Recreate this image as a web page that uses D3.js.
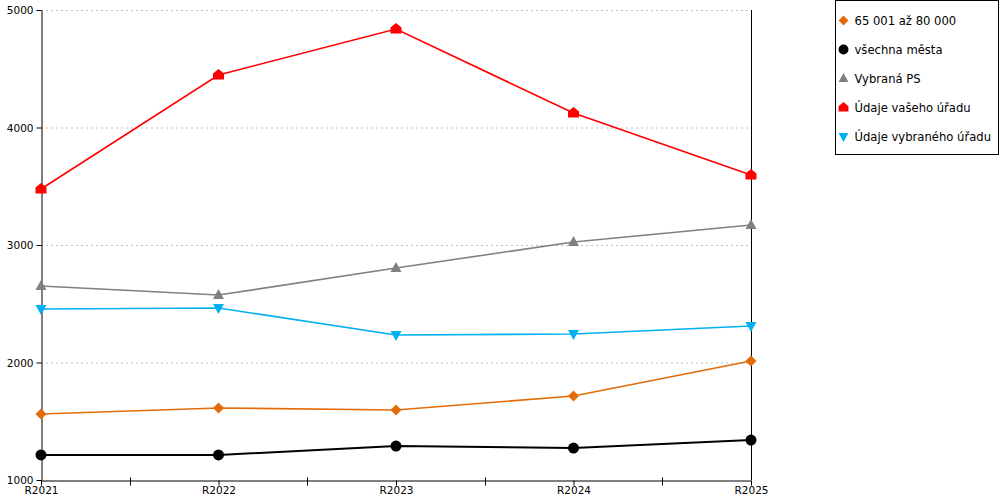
<!DOCTYPE html>
<html>
<head>
<meta charset="utf-8">
<script src="https://cdn.jsdelivr.net/npm/d3@7"></script>
<style>
  body { margin: 0; background: #fff; }
  svg { display: block; font-family: 'DejaVu Sans', sans-serif; }
</style>
</head>
<body>
<div id="chart"></div>
<script>
const categories = ['R2021', 'R2022', 'R2023', 'R2024', 'R2025']
const yTicks = [1000, 2000, 3000, 4000, 5000]

const seriesNames = ['65 001 až 80 000', 'všechna města', 'Vybraná PS', 'Údaje vašeho úřadu', 'Údaje vybraného úřadu']
const orangeValues = [1562, 1613, 1596, 1715, 2013]
const blackValues = [1213, 1213, 1289, 1272, 1340]
const grayValues = [2651, 2574, 2804, 3026, 3170]
const redValues = [3477, 4447, 4838, 4123, 3596]
const blueValues = [2455, 2464, 2234, 2243, 2311]

const series = [
  { name: seriesNames[0], values: orangeValues, color: '#e36c09', marker: 'diamond' },
  { name: seriesNames[1], values: blackValues, color: '#000000', marker: 'circle' },
  { name: seriesNames[2], values: grayValues, color: '#808080', marker: 'triangle' },
  { name: seriesNames[3], values: redValues, color: '#ff0000', marker: 'house' },
  { name: seriesNames[4], values: blueValues, color: '#00b0f0', marker: 'down' }
]

const margin = { top: 10, right: 249, bottom: 20, left: 41 }
const width = 1000 - margin.left - margin.right
const height = 500 - margin.top - margin.bottom

const svg = d3.select('#chart')
  .append('svg')
  .attr('width', 1000)
  .attr('height', 500)

const g = svg.append('g')
  .attr('transform', `translate(${margin.left},${margin.top})`)

const x = d3.scalePoint().domain(categories).range([0, width])
const y = d3.scaleLinear().domain([1000, 5000]).range([height, 0])

// grid
g.append('g')
  .selectAll('line')
  .data(yTicks.filter(d => d > 1000))
  .join('line')
  .attr('x1', 0)
  .attr('x2', width)
  .attr('y1', d => y(d) + 0.5)
  .attr('y2', d => y(d) + 0.5)
  .attr('stroke', '#c0c0c0')
  .attr('stroke-dasharray', '2,3')

// right border line
g.append('line')
  .attr('x1', width + 0.5).attr('x2', width + 0.5)
  .attr('y1', 0).attr('y2', height)
  .attr('stroke', '#000')

// y axis
g.append('g')
  .attr('transform', 'translate(0.5,0)')
  .call(d3.axisLeft(y).tickValues(yTicks).tickSize(5).tickSizeOuter(0).tickFormat(d3.format('d')))
  .call(a => a.selectAll('text').attr('font-size', '10.5px').attr('fill', '#000').attr('dy', '0.35em'))
  .attr('font-family', null)

// x axis
const xAxis = g.append('g')
  .attr('transform', `translate(0,${height + 0.5})`)
  .call(d3.axisBottom(x).tickSize(5).tickSizeOuter(0))
  .attr('font-family', null)
xAxis.selectAll('text').attr('font-size', '10.5px').attr('fill', '#000').attr('dy', '0.55em')

// intermediate ticks
const step = x.step()
xAxis.append('g')
  .selectAll('line')
  .data(categories.slice(0, -1))
  .join('line')
  .attr('x1', d => Math.round(x(d) + step / 2) + 0.5)
  .attr('x2', d => Math.round(x(d) + step / 2) + 0.5)
  .attr('y1', -3)
  .attr('y2', 5)
  .attr('stroke', '#000')

const markerPath = (type) => {
  if (type === 'diamond') return 'M0,-5.5L5.5,0L0,5.5L-5.5,0Z'
  if (type === 'circle') return d3.symbol(d3.symbolCircle, 95)()
  if (type === 'triangle') return 'M0,-6L5.5,4L-5.5,4Z'
  if (type === 'down') return 'M0,6L5.5,-4L-5.5,-4Z'
  return 'M0,-6L5.5,-1.5L5.5,4.5L-5.5,4.5L-5.5,-1.5Z'
}

const line = d3.line()
  .x((d, i) => x(categories[i]))
  .y(d => y(d))

// draw in stacking order (red on top of others like reference)
const drawOrder = [1, 0, 4, 2, 3]
drawOrder.forEach(idx => {
  const s = series[idx]
  const sg = g.append('g')
  sg.append('path')
    .datum(s.values)
    .attr('d', line)
    .attr('fill', 'none')
    .attr('stroke', s.color)
    .attr('stroke-width', s.marker === 'circle' ? 2 : 1.6)
  sg.selectAll('path.m')
    .data(s.values)
    .join('path')
    .attr('class', 'm')
    .attr('d', markerPath(s.marker))
    .attr('transform', (d, i) => `translate(${x(categories[i])},${y(d)})`)
    .attr('fill', s.color)
})

// legend
const legend = svg.append('g').attr('transform', 'translate(835.5,0.5)')
legend.append('rect')
  .attr('width', 163)
  .attr('height', 154)
  .attr('fill', '#fff')
  .attr('stroke', '#000')

const ly = d3.scalePoint().domain(seriesNames).range([20, 136])
const items = legend.selectAll('g.item')
  .data(series)
  .join('g')
  .attr('class', 'item')
  .attr('transform', d => `translate(0,${ly(d.name)})`)
items.append('path')
  .attr('d', d => markerPath(d.marker))
  .attr('transform', 'translate(8,0) scale(0.9)')
  .attr('fill', d => d.color)
items.append('text')
  .attr('x', 19)
  .attr('dy', '0.35em')
  .attr('font-size', '11.6px')
  .attr('fill', '#000')
  .text(d => d.name)
</script>
</body>
</html>
